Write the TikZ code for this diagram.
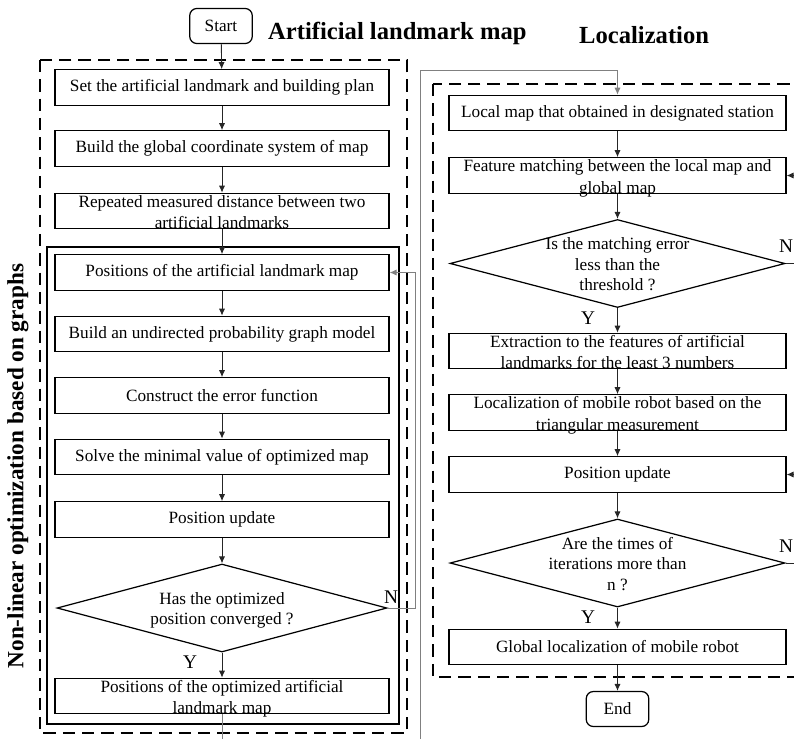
\documentclass[tikz,border=0pt]{standalone}
\usepackage{fontspec}
\setmainfont{Liberation Serif}
\usetikzlibrary{shapes.geometric,arrows.meta}
\newcommand{\ctext}[1]{\makebox[0pt]{\smash{\raisebox{-4pt}{\begin{tabular}{@{}c@{}}#1\end{tabular}}}}}

\begin{document}
\begin{tikzpicture}[x=0.02cm,y=-0.02cm,
    box/.style={draw,line width=0.7pt,minimum width=6.68cm,minimum height=0.71cm,inner sep=0pt,font=\fontsize{9.8}{12.2}\selectfont},
    rbox/.style={box,minimum width=6.74cm},
    dec/.style={draw,diamond,line width=0.7pt,minimum width=6.6cm,minimum height=1.76cm,inner sep=0pt,font=\fontsize{9.8}{11.6}\selectfont},
    term/.style={draw,rounded corners=4pt,line width=0.7pt,minimum width=1.25cm,minimum height=0.7cm,inner sep=0pt,font=\fontsize{9.8}{12}\selectfont},
    flow/.style={-{Latex[length=4pt,width=3.5pt]},black!85,line width=0.5pt},
    back/.style={flow,black!50},
    zone/.style={dash pattern=on 7pt off 4pt,line width=1.2pt},
    yn/.style={font=\fontsize{11}{13}\selectfont},
    title/.style={font=\fontsize{14}{16}\selectfont\bfseries}]
    \useasboundingbox (0,0) rectangle (794,738);
    \clip (0,0) rectangle (794,738);

    % frames
    \draw[zone] (40,60) rectangle (407,733);
    \draw[line width=1.5pt] (47,247) rectangle (399,724);
    \draw[zone] (433,84) rectangle (830,677);

    % titles
    \node[title,anchor=west] (tmap) at (262,33) {Artificial landmark map};
    \node[title,anchor=west] (tloc) at (573,35) {Localization};
    \node[title,rotate=90,font=\fontsize{13.2}{16}\selectfont\bfseries] (tgraph) at (18,466) {Non-linear optimization based on graphs};

    % landmark map
    \node[term] (start) at (221,26) {Start};
    \node[box] (b1) at (222,87.5) {Set the artificial landmark and building plan};
    \node[box] (b2) at (222,148.5) {Build the global coordinate system of map};
    \node[box] (b3) at (222,211) {\ctext{Repeated measured distance between two\\artificial landmarks}};
    \node[box] (b4) at (222,272.5) {Positions of the artificial landmark map};
    \node[box] (b5) at (222,334) {Build an undirected probability graph model};
    \node[box] (b6) at (222,395.5) {Construct the error function};
    \node[box] (b7) at (222,457) {Solve the minimal value of optimized map};
    \node[box] (b8) at (222,519.5) {Position update};
    \node[dec] (d1) at (222,608) {\ctext{Has the optimized\\position converged ?}};
    \node[box] (b9) at (222,696) {\ctext{Positions of the optimized artificial\\landmark map}};
    \node[yn] (y1) at (190,662) {Y};
    \node[yn] (n1) at (391,597) {N};

    \draw[flow] (start) -- (b1);
    \draw[flow] (b1) -- (b2);
    \draw[flow] (b2) -- (b3);
    \draw[flow] (b3) -- (b4);
    \draw[flow] (b4) -- (b5);
    \draw[flow] (b5) -- (b6);
    \draw[flow] (b6) -- (b7);
    \draw[flow] (b7) -- (b8);
    \draw[flow] (b8) -- (d1.north);
    \draw[flow] (d1.south) -- (b9);
    \draw[back] (d1.east) -- (415,608) |- (b4.east);

    % localization
    \node[rbox] (r1) at (617.5,113) {Local map that obtained in designated station};
    \node[rbox] (r2) at (617.5,175.5) {\ctext{Feature matching between the local map and\\global map}};
    \node[dec,minimum width=6.7cm] (d2) at (617.5,263.5) {\ctext{Is the matching error\\less than the\\threshold ?}};
    \node[rbox] (r3) at (617.5,351) {\ctext{Extraction to the features of artificial\\landmarks for the least 3 numbers}};
    \node[rbox] (r4) at (617.5,412.5) {\ctext{Localization of mobile robot based on the\\triangular measurement}};
    \node[rbox] (r5) at (617.5,474.5) {Position update};
    \node[dec,minimum width=6.7cm] (d3) at (617.5,563) {\ctext{Are the times of\\iterations more than\\n ?}};
    \node[rbox] (r6) at (617.5,647) {Global localization of mobile robot};
    \node[term] (end) at (617.5,709) {End};
    \node[yn] (y2) at (588,318) {Y};
    \node[yn] (n2) at (786,246) {N};
    \node[yn] (y3) at (588,617) {Y};
    \node[yn] (n3) at (786,546) {N};

    \draw[back] (b9.south) -- (222,770) -| (420,70) -| (r1.north);
    \draw[flow] (r1) -- (r2);
    \draw[flow] (r2) -- (d2.north);
    \draw[flow] (d2.south) -- (r3);
    \draw[flow] (r3) -- (r4);
    \draw[flow] (r4) -- (r5);
    \draw[flow] (r5) -- (d3.north);
    \draw[flow] (d3.south) -- (r6);
    \draw[flow] (r6) -- (end);
    \draw[flow] (d2.east) -- (805,263.5) |- (r2.east);
    \draw[flow] (d3.east) -- (805,563) |- (r5.east);
\end{tikzpicture}
\end{document}
